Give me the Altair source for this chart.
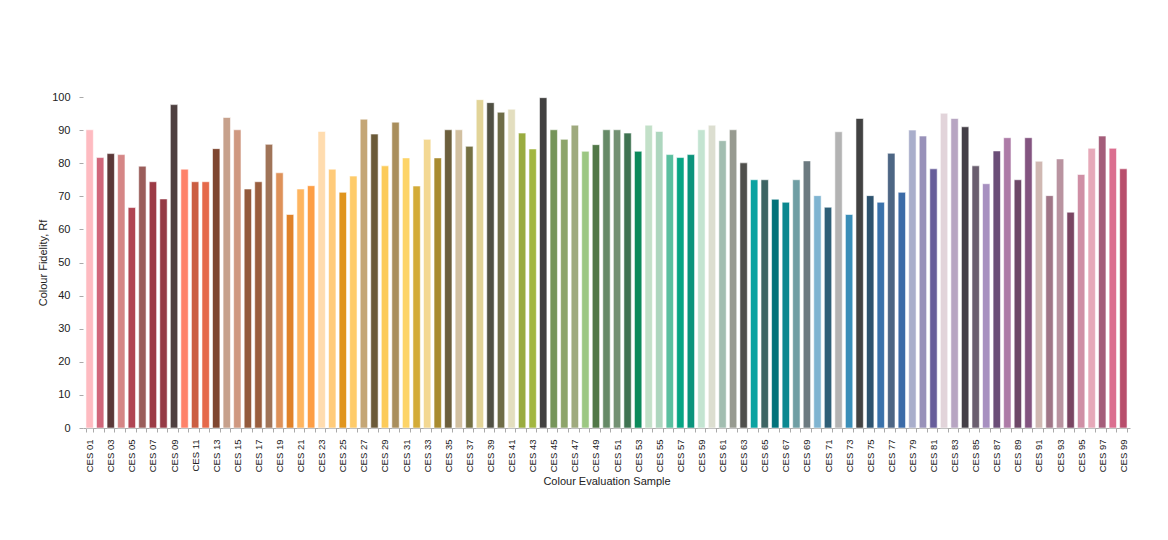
import altair as alt
import pandas as pd

samples = [f"CES {i:02d}" for i in range(1, 100)]

fidelity = [
    90.1, 81.7, 82.9, 82.6, 66.6, 79.1, 74.4, 69.2, 97.7, 78.2,
    74.4, 74.4, 84.4, 93.8, 90.1, 72.2, 74.4, 85.7, 77.1, 64.5,
    72.2, 73.2, 89.6, 78.2, 71.2, 76.1, 93.3, 88.8, 79.2, 92.4,
    81.6, 73.1, 87.2, 81.6, 90.1, 90.1, 85.1, 99.2, 98.3, 95.4,
    96.3, 89.1, 84.3, 99.8, 90.1, 87.2, 91.5, 83.6, 85.6, 90.1,
    90.1, 89.1, 83.6, 91.5, 89.6, 82.6, 81.7, 82.6, 90.1, 91.5,
    86.8, 90.1, 80.1, 75.0, 75.0, 69.1, 68.2, 75.0, 80.7, 70.2,
    66.7, 89.5, 64.5, 93.5, 70.2, 68.2, 83.0, 71.2, 90.0, 88.2,
    78.3, 95.1, 93.5, 91.0, 79.2, 73.8, 83.7, 87.7, 75.0, 87.7,
    80.6, 70.2, 81.3, 65.2, 76.6, 84.5, 88.2, 84.5, 78.3,
]

sample_colours = [
    "#FEBBC1", "#D0667A", "#5B3838", "#D58686", "#B04452", "#9A5D5A", "#9C3B45", "#953A45", "#4E4040", "#FE8269",
    "#CB5E42", "#E5694A", "#7F4630", "#C7A18C", "#CF9880", "#935A3C", "#995E3E", "#A07458", "#DE9159", "#E08229",
    "#FEB560", "#FD9E45", "#FFDCAF", "#FFCB7A", "#E0951E", "#FECB6A", "#C4A676", "#6B5A38", "#FCCB5A", "#A98E5C",
    "#FDD468", "#D3AB38", "#F3D893", "#A88B30", "#6C5F3C", "#D2C0A0", "#747042", "#E2D498", "#505043", "#6F6D47",
    "#E3DEBF", "#9AAC40", "#A2B640", "#424140", "#76955A", "#8DA46A", "#9FAA7E", "#9CC782", "#527848", "#668A67",
    "#739173", "#3F7351", "#0C8A5B", "#C2E0C8", "#ADD6BE", "#5ABF9F", "#07A584", "#0A947C", "#C3E4D1", "#DCDED0",
    "#A2BDB0", "#979A90", "#4F4F4C", "#0CA3A1", "#3D6463", "#01727A", "#0B8890", "#6F9EA4", "#6C7A80", "#7FB4D1",
    "#2E5F77", "#B3B3B3", "#3A8EB8", "#424242", "#2E536F", "#3A72AB", "#4D6684", "#3C6BA7", "#A9AECB", "#9891B9",
    "#675E9A", "#E2D4DA", "#B7A5C2", "#443F47", "#6A5E6F", "#A790C0", "#6B4E78", "#AD7BA7", "#6D4868", "#835480",
    "#D0B8B2", "#A07687", "#B993A0", "#7A4562", "#CF8FA5", "#E6A9B9", "#A45D7A", "#DB6E8F", "#B84E6C",
]

df = pd.DataFrame({"sample": samples, "rf": fidelity})

FONT = "Liberation Sans"

chart = (
    alt.Chart(df)
    .mark_bar(stroke="white", strokeWidth=0.8, strokeOpacity=0.7)
    .encode(
        x=alt.X(
            "sample:N",
            sort=samples,
            title="Colour Evaluation Sample",
            scale=alt.Scale(paddingInner=0.3, paddingOuter=0.28),
            axis=alt.Axis(
                labelAngle=-90,
                labelExpr="parseInt(substring(datum.label, 4)) % 2 == 1 ? datum.label : ''",
                tickBand="extent",
                tickSize=4,
                labelPadding=7,
                labelFontSize=9.5,
                labelColor="#222222",
                domainColor="#aaaaaa",
                tickColor="#aaaaaa",
                titleFontSize=11,
                titleFontWeight="normal",
                titleColor="#222222",
                titlePadding=4,
                labelFont=FONT,
                titleFont=FONT,
            ),
        ),
        y=alt.Y(
            "rf:Q",
            title="Colour Fidelity, Rf",
            scale=alt.Scale(domain=[0, 100], nice=False),
            axis=alt.Axis(
                values=list(range(0, 101, 10)),
                grid=False,
                domain=False,
                tickSize=4,
                tickColor="#aaaaaa",
                labelPadding=9,
                labelFontSize=11,
                labelColor="#222222",
                titleFontSize=11,
                titleFontWeight="normal",
                titleColor="#222222",
                titlePadding=3,
                labelFont=FONT,
                titleFont=FONT,
            ),
        ),
        color=alt.Color(
            "sample:N",
            scale=alt.Scale(domain=samples, range=sample_colours),
            legend=None,
        ),
    )
    .properties(
        width=1047,
        height=331,
        autosize=alt.AutoSizeParams(type="none"),
        padding={"left": 75, "top": 89, "right": 30, "bottom": 100},
    )
    .configure_view(stroke=None)
)

chart.save("out.html", embed_options={"renderer": "svg", "actions": False})
